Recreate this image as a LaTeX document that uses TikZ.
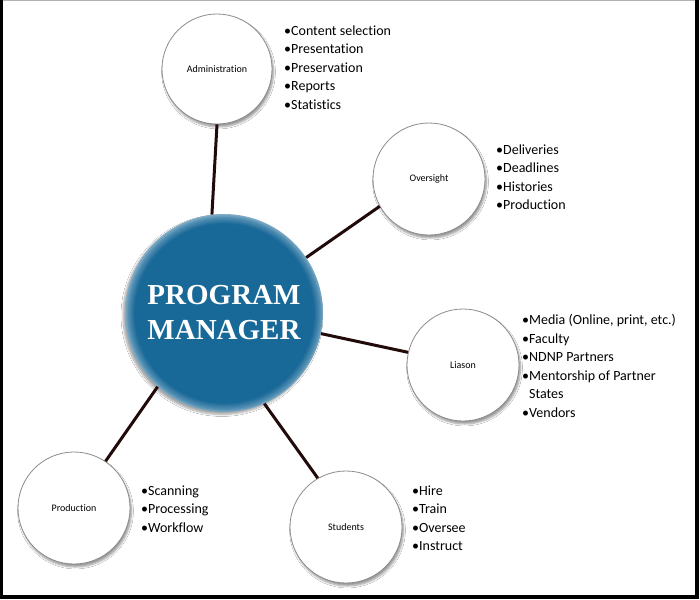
\documentclass[tikz,border=0pt]{standalone}
\usepackage{fontspec}
\setmainfont{Carlito}[Ligatures=NoCommon]
\newfontfamily\pmfont{Liberation Serif}
\usetikzlibrary{shadows.blur}
\definecolor{pmblue}{RGB}{24,104,152}
\definecolor{linkcol}{RGB}{34,10,10}
\pgfdeclareradialshading{pmshade}{\pgfpoint{0bp}{0bp}}{color(0bp)=(pmblue); color(22.6bp)=(pmblue); color(24.2bp)=(pmblue!75!white); color(25bp)=(pmblue!55!white); color(50bp)=(pmblue!55!white)}
\tikzset{
  topic/.style={circle, draw={rgb,255:red,140;green,140;blue,140}, line width=0.8pt, fill=white,
    minimum size=112pt, inner sep=0pt, font=\fontsize{10}{12}\selectfont,
    blur shadow={shadow xshift=1.5pt, shadow yshift=-3pt, shadow blur steps=6, shadow opacity=40}},
  items/.style={anchor=north west, inner sep=0pt, align=left, font=\fontsize{14}{18.5}\selectfont},
  link/.style={draw=linkcol, line width=3pt}
}
\begin{document}
\begin{tikzpicture}[x=1pt,y=-1pt]
\useasboundingbox (0,0) rectangle (700,599);
% frame
\fill[black] (0,0) rectangle (699,598.5);
\fill[white] (3,1.3) rectangle (695,595);
\draw[gray!60, line width=0.8pt] (3,0.6) -- (695,0.6);
% central node
\node[circle, minimum size=198pt, inner sep=0pt, shading=pmshade,
  blur shadow={shadow xshift=-2pt, shadow yshift=-2.5pt, shadow blur steps=8, shadow opacity=35},
  text=white, align=center, font=\pmfont\bfseries\fontsize{29}{35}\selectfont]
  (pm) at (224,313) {PROGRAM\\MANAGER};
% topic nodes
\node[topic, minimum size=110pt] (adm) at (217,69) {Administration};
\node[topic] (ovs) at (429,179) {Oversight};
\node[topic] (lia) at (463,365) {Liason};
\node[topic] (prod) at (74,508) {Production};
\node[topic] (stu) at (346,527) {Students};
% connectors
\draw[link] (pm.97.6) -- (adm.-90);
\draw[link] (pm.34.9) -- (ovs.209);
\draw[link] (pm.-12.7) -- (lia.167);
\draw[link] (pm.228.6) -- (prod.56.6);
\draw[link] (pm.-66) -- (stu.120.8);
% item lists
\node[items] (admlist) at (284,25.5) {•Content selection\\•Presentation\\•Preservation\\•Reports\\•Statistics};
\node[items] (ovslist) at (496,144.5) {•Deliveries\\•Deadlines\\•Histories\\•Production};
\node[items] (lialist) at (522,314.5) {•Media (Online, print, etc.)\\•Faculty\\•NDNP Partners\\•Mentorship of Partner\\\phantom{•}States\\•Vendors};
\node[items] (prodlist) at (141,485.5) {•Scanning\\•Processing\\•Workflow};
\node[items] (stulist) at (412,485.5) {•Hire\\•Train\\•Oversee\\•Instruct};
\end{tikzpicture}
\end{document}
